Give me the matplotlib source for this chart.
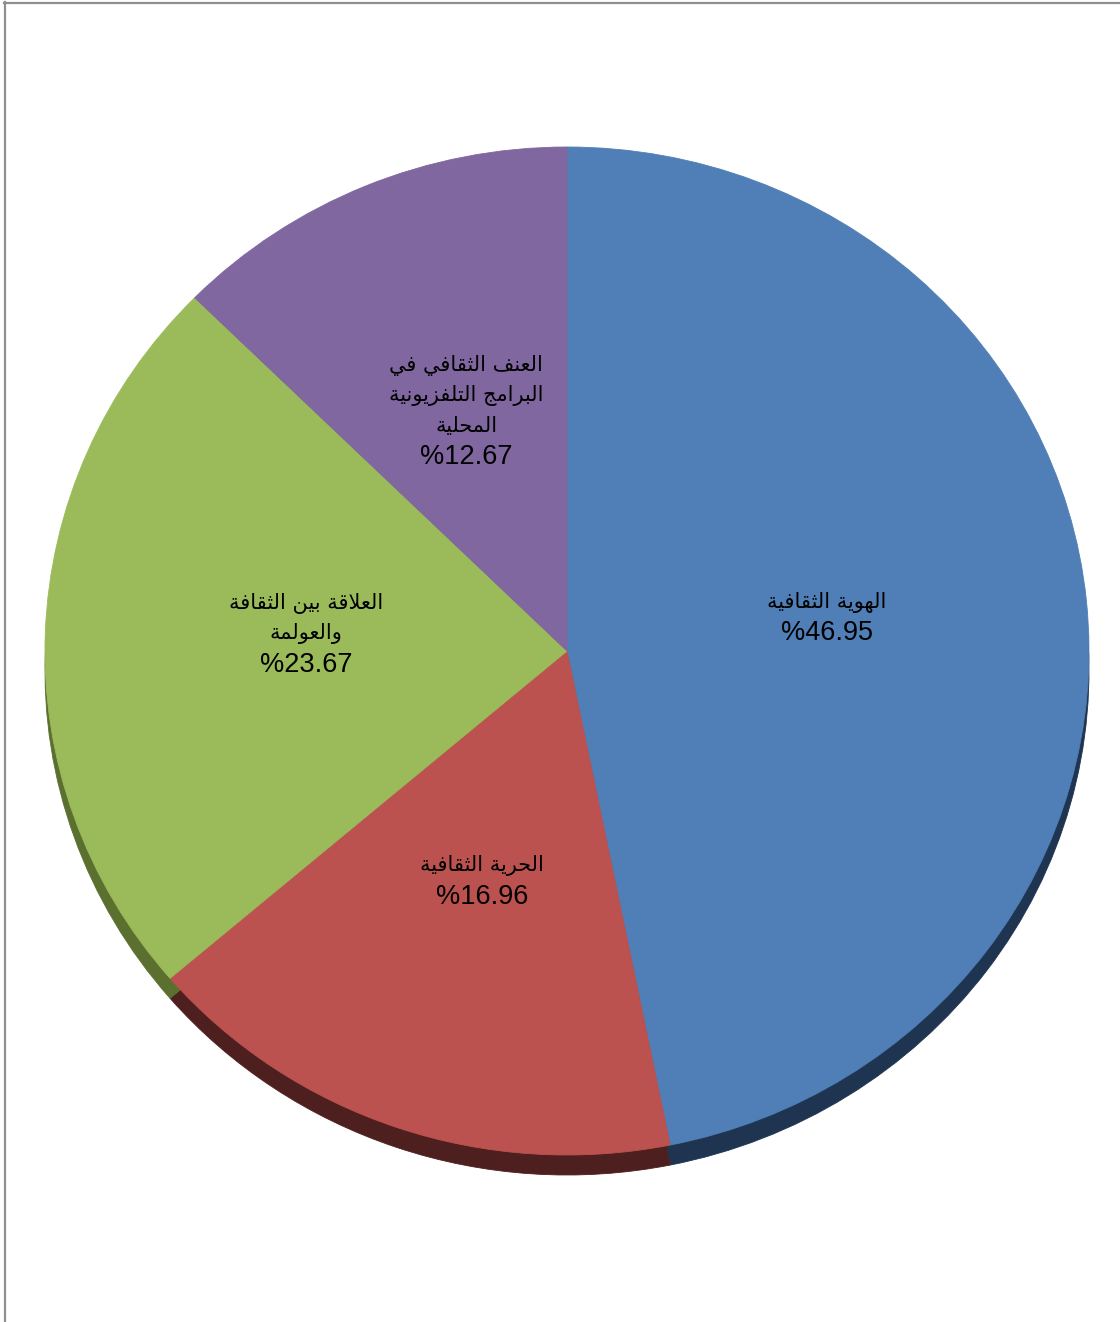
import matplotlib
matplotlib.use("Agg")
import numpy as np
import matplotlib.pyplot as plt
from matplotlib.lines import Line2D

# slice data, clockwise from 12 o'clock
labels = [
    "الهوية الثقافية",
    "الحرية الثقافية",
    "العلاقة بين الثقافة\nوالعولمة",
    "العنف الثقافي في\nالبرامج التلفزيونية\nالمحلية",
]
values = [46.95, 16.96, 23.67, 12.67]
face_colors = ["#4f7fb6", "#bb524f", "#9bbb5b", "#8067a0"]
side_colors = ["#1f3450", "#4e1f1f", "#5b6f2f", "#4a3b60"]

# presentation forms: (isolated, final, initial, medial); two entries = right-joining only
FORMS = {
    "ا": (0xFE8D, 0xFE8E), "ب": (0xFE8F, 0xFE90, 0xFE91, 0xFE92),
    "ة": (0xFE93, 0xFE94), "ت": (0xFE95, 0xFE96, 0xFE97, 0xFE98),
    "ث": (0xFE99, 0xFE9A, 0xFE9B, 0xFE9C), "ج": (0xFE9D, 0xFE9E, 0xFE9F, 0xFEA0),
    "ح": (0xFEA1, 0xFEA2, 0xFEA3, 0xFEA4), "د": (0xFEA9, 0xFEAA),
    "ر": (0xFEAD, 0xFEAE), "ز": (0xFEAF, 0xFEB0),
    "ع": (0xFEC9, 0xFECA, 0xFECB, 0xFECC), "ف": (0xFED1, 0xFED2, 0xFED3, 0xFED4),
    "ق": (0xFED5, 0xFED6, 0xFED7, 0xFED8), "ل": (0xFEDD, 0xFEDE, 0xFEDF, 0xFEE0),
    "م": (0xFEE1, 0xFEE2, 0xFEE3, 0xFEE4), "ن": (0xFEE5, 0xFEE6, 0xFEE7, 0xFEE8),
    "ه": (0xFEE9, 0xFEEA, 0xFEEB, 0xFEEC), "و": (0xFEED, 0xFEEE),
    "ي": (0xFEF1, 0xFEF2, 0xFEF3, 0xFEF4),
}


def shape_line(line):
    """Join Arabic letters and put them in visual (left-to-right) order."""
    out = []
    chars = list(line)
    i = 0
    prev_joins = False
    while i < len(chars):
        c = chars[i]
        if c not in FORMS:
            out.append(c)
            prev_joins = False
            i += 1
            continue
        # lam + alef ligature
        if c == "ل" and i + 1 < len(chars) and chars[i + 1] == "ا":
            out.append(chr(0xFEFC if prev_joins else 0xFEFB))
            prev_joins = False
            i += 2
            continue
        f = FORMS[c]
        nxt = chars[i + 1] if i + 1 < len(chars) else ""
        joins_next = len(f) == 4 and nxt in FORMS
        if prev_joins and joins_next:
            out.append(chr(f[3]))
        elif prev_joins:
            out.append(chr(f[1]))
        elif joins_next:
            out.append(chr(f[2]))
        else:
            out.append(chr(f[0]))
        prev_joins = joins_next
        i += 1
    return "".join(reversed(out))


W, H = 1120, 1322
fig = plt.figure(figsize=(W / 100, H / 100), dpi=100)

# pie ellipse in pixels: centre (567, 651), radii 522 x 504
cx, cy, rx, ry = 567, 651, 522, 504
ax = fig.add_axes([(cx - rx) / W, (H - cy - ry) / H, 2 * rx / W, 2 * ry / H])

# side wall of the 3-D pie: darker copy shifted down
depth = 20 / ry
side, _ = ax.pie(values, colors=side_colors, startangle=90, counterclock=False,
                 center=(0, -depth), radius=1)
for w in side:
    w.set_edgecolor(w.get_facecolor())
    w.set_linewidth(0.6)

wedges, _ = ax.pie(values, colors=face_colors, startangle=90, counterclock=False,
                   radius=1)
for w in wedges:
    w.set_edgecolor(w.get_facecolor())
    w.set_linewidth(0.6)

# labels: Arabic name above, percentage below, centred halfway out the slice
line_px = 31
px = 0.72  # points per pixel at 100 dpi
for w, name, v in zip(wedges, labels, values):
    mid = np.deg2rad((w.theta1 + w.theta2) / 2)
    pos = (0.5 * np.cos(mid), 0.5 * np.sin(mid))
    n = name.count("\n") + 1
    lift = 8
    ax.annotate("\n".join(shape_line(s) for s in name.split("\n")), pos,
                xytext=(0, (15.5 + lift) * px), textcoords="offset points",
                ha="center", va="center", multialignment="center",
                fontsize=15, family=["DejaVu Sans"], linespacing=1.6)
    ax.annotate(f"%{v:.2f}", pos,
                xytext=(0, (lift - n / 2 * line_px) * px), textcoords="offset points",
                ha="center", va="center", fontsize=19.5, family=["Liberation Sans"])

ax.set_aspect("auto")
ax.set_xlim(-1, 1)
ax.set_ylim(-1, 1)
ax.axis("off")

# frame lines along top and left
fig.add_artist(Line2D([4 / W, 1], [1 - 2.5 / H, 1 - 2.5 / H], color="#8f8f8f", lw=1.6,
                      transform=fig.transFigure))
fig.add_artist(Line2D([5 / W, 5 / W], [0, 1 - 2 / H], color="#8f8f8f", lw=1.6,
                      transform=fig.transFigure))

fig.savefig("out.png", dpi=100)
